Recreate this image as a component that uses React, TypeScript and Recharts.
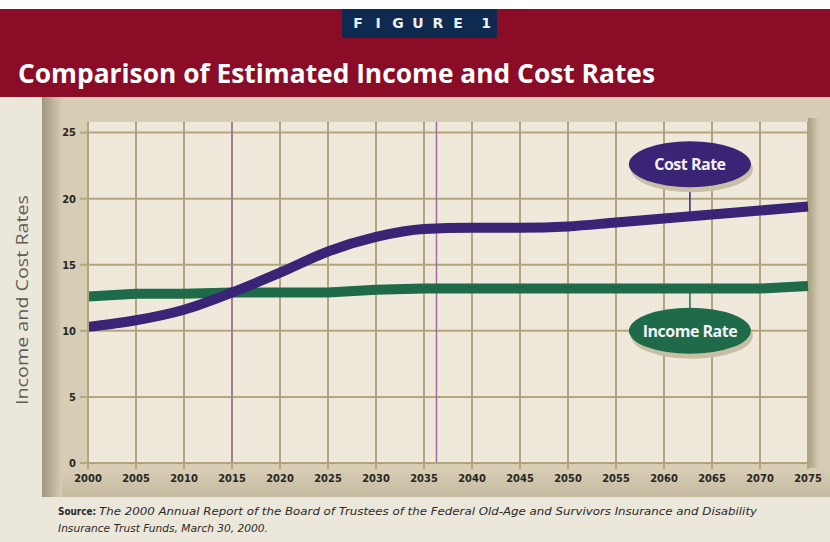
import React from 'react';
import {
  LineChart,
  Line,
  XAxis,
  YAxis,
  CartesianGrid,
  ReferenceLine,
  ReferenceDot,
} from 'recharts';

const years = [2000, 2005, 2010, 2015, 2020, 2025, 2030, 2035, 2040, 2045, 2050, 2055, 2060, 2065, 2070, 2075];
const costRate = [10.3, 10.8, 11.6, 12.9, 14.4, 16.0, 17.1, 17.7, 17.8, 17.8, 17.9, 18.2, 18.5, 18.8, 19.1, 19.4];
const incomeRate = [12.6, 12.8, 12.8, 12.9, 12.9, 12.9, 13.1, 13.2, 13.2, 13.2, 13.2, 13.2, 13.2, 13.2, 13.2, 13.4];
const yTicks = [0, 5, 10, 15, 20, 25];
const markerYears = [2015, 2036.3];

// label bubbles (year, value) and where their stems touch the line
const costLabel = { x: 2062.7, y: 22.6, stem: 18.7, text: 'Cost Rate' };
const incomeLabel = { x: 2062.7, y: 10.0, stem: 13.2, text: 'Income Rate' };

const data = years.map((year, i) => ({ year, cost: costRate[i], income: incomeRate[i] }));

const GRID = '#b3a57c';
const PURPLE = '#3a2475';
const GREEN = '#1f6a48';
const tickFont = "'DejaVu Sans Condensed', 'Liberation Sans Narrow', sans-serif";

function Bubble(fill: string, text: string) {
  return (props: any) => {
    const { cx, cy } = props;
    return (
      <g>
        <ellipse cx={cx + 2} cy={cy + 5} rx={61} ry={23} fill="#c9bfa6" />
        <ellipse cx={cx} cy={cy} rx={61} ry={23} fill={fill} />
        <text
          x={cx}
          y={cy + 6}
          textAnchor="middle"
          fill="#f4f0f6"
          fontFamily="'Open Sans', sans-serif"
          fontWeight={700}
          fontSize={16}
          letterSpacing={-0.5}
        >
          {text}
        </text>
      </g>
    );
  };
}

function Backdrop() {
  return (
    <svg width={830} height={542} style={{ position: 'absolute', left: 0, top: 0 }}>
      <defs>
        <linearGradient id="leftShade" x1="0" x2="1" y1="0" y2="0">
          <stop offset="0" stopColor="#9f9682" />
          <stop offset="1" stopColor="#d6cdb4" />
        </linearGradient>
        <linearGradient id="rightShade" x1="0" x2="1" y1="0" y2="0">
          <stop offset="0" stopColor="#a79e86" />
          <stop offset="1" stopColor="#d6cdb4" />
        </linearGradient>
        <linearGradient id="bottomShade" x1="0" x2="0" y1="0" y2="1">
          <stop offset="0" stopColor="#d6cdb4" />
          <stop offset="1" stopColor="#c4baa0" />
        </linearGradient>
      </defs>
      <rect x={0} y={0} width={830} height={542} fill="#ece7db" />
      <rect x={0} y={0} width={830} height={9} fill="#ffffff" />
      <rect x={0} y={9} width={830} height={88} fill="#8a0c27" />
      <rect x={342} y={9} width={155} height={29} fill="#0f2a4f" />
      {['F', 'I', 'G', 'U', 'R', 'E', '1'].map((ch, i) => (
        <text
          key={i}
          x={358 + i * 20 + (i === 6 ? 8 : 0)}
          y={28}
          textAnchor="middle"
          fill="#eef0f4"
          fontFamily="'DejaVu Sans', sans-serif"
          fontWeight={700}
          fontSize={14}
        >
          {ch}
        </text>
      ))}
      <text x={18} y={83} fill="#ffffff" fontFamily="'Open Sans', sans-serif" fontWeight={700} fontSize={27} textLength={637} lengthAdjust="spacingAndGlyphs">
        Comparison of Estimated Income and Cost Rates
      </text>

      <rect x={42} y={97} width={788} height={400} fill="#d6cdb4" />
      <rect x={42} y={470} width={788} height={27} fill="url(#bottomShade)" />
      <rect x={42} y={97} width={20} height={400} fill="url(#leftShade)" />
      <rect x={808} y={118} width={11} height={350} fill="url(#rightShade)" />
      <rect x={88} y={122} width={720} height={341} fill="#efe9db" />

      <text
        transform="translate(28 300) rotate(-90)"
        textAnchor="middle"
        fill="#5f5c57"
        fontFamily="'Open Sans', sans-serif"
        fontWeight={400}
        fontSize={17}
        textLength={210}
        lengthAdjust="spacingAndGlyphs"
      >
        Income and Cost Rates
      </text>

      <text x={58} y={515} fill="#2b2a28" fontFamily={tickFont} fontWeight={700} fontSize={11} textLength={38} lengthAdjust="spacingAndGlyphs">
        Source:
      </text>
      <text x={99} y={515} fill="#2b2a28" fontFamily={tickFont} fontStyle="italic" fontSize={11} textLength={658} lengthAdjust="spacingAndGlyphs">
        The 2000 Annual Report of the Board of Trustees of the Federal Old-Age and Survivors Insurance and Disability
      </text>
      <text x={58} y={532} fill="#2b2a28" fontFamily={tickFont} fontStyle="italic" fontSize={11} textLength={210} lengthAdjust="spacingAndGlyphs">
        Insurance Trust Funds, March 30, 2000.
      </text>
    </svg>
  );
}

export default function App() {
  return (
    <div style={{ position: 'absolute', left: 0, top: 0, width: 830, height: 542, overflow: 'hidden' }}>
      <Backdrop />
      <div style={{ position: 'absolute', left: 0, top: 97 }}>
        <LineChart width={830} height={400} data={data} margin={{ top: 25, right: 22, left: 0, bottom: 0 }}>
          <CartesianGrid stroke={GRID} strokeWidth={2} verticalValues={years} horizontalValues={yTicks} />
          <XAxis
            dataKey="year"
            type="number"
            domain={[2000, 2075]}
            ticks={years}
            height={34}
            stroke={GRID}
            strokeWidth={2}
            tickSize={6}
            tickMargin={5}
            tick={{ fill: '#262522', fontSize: 11, fontWeight: 700, fontFamily: tickFont }}
            interval={0}
          />
          <YAxis
            type="number"
            domain={[0, 25.8]}
            ticks={yTicks}
            width={88}
            stroke={GRID}
            strokeWidth={2}
            tickSize={8}
            tickMargin={4}
            tick={{ fill: '#262522', fontSize: 11, fontWeight: 700, fontFamily: tickFont }}
            allowDataOverflow
          />
          {markerYears.map((yr) => (
            <ReferenceLine key={yr} x={yr} stroke="#a0709a" strokeWidth={1.5} />
          ))}
          <Line
            type="linear"
            dataKey="income"
            stroke={GREEN}
            strokeWidth={10}
            dot={false}
            isAnimationActive={false}
          />
          <Line
            type="monotone"
            dataKey="cost"
            stroke={PURPLE}
            strokeWidth={10}
            dot={false}
            isAnimationActive={false}
          />
          <ReferenceLine
            segment={[{ x: costLabel.x, y: costLabel.stem }, { x: costLabel.x, y: costLabel.y }]}
            stroke={PURPLE}
            strokeWidth={1.5}
          />
          <ReferenceLine
            segment={[{ x: incomeLabel.x, y: incomeLabel.stem }, { x: incomeLabel.x, y: incomeLabel.y }]}
            stroke={GREEN}
            strokeWidth={1.5}
          />
          <ReferenceDot x={costLabel.x} y={costLabel.y} r={0} shape={Bubble(PURPLE, costLabel.text)} />
          <ReferenceDot x={incomeLabel.x} y={incomeLabel.y} r={0} shape={Bubble(GREEN, incomeLabel.text)} />
        </LineChart>
      </div>
    </div>
  );
}
